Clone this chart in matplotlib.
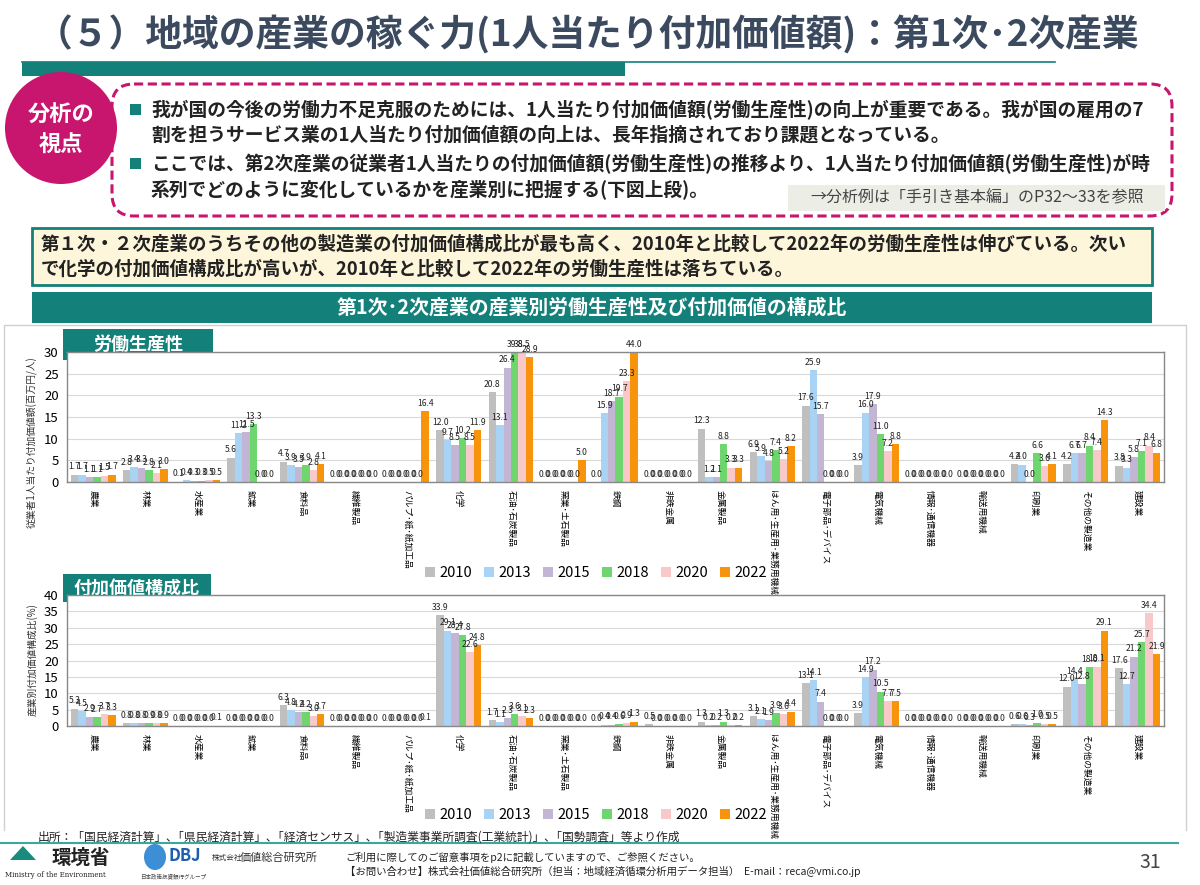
import matplotlib
matplotlib.use("Agg")
import matplotlib.pyplot as plt
import numpy as np
from matplotlib.patches import FancyBboxPatch, Rectangle, Ellipse, Polygon

plt.rcParams['font.family'] = ['Noto Sans CJK JP', 'DejaVu Sans']

# データ
categories = ["農業", "林業", "水産業", "鉱業", "食料品", "繊維製品", "パルプ･紙･紙加工品",
              "化学", "石油･石炭製品", "窯業･土石製品", "鉄鋼", "非鉄金属", "金属製品",
              "はん用･生産用･業務用機械", "電子部品･デバイス", "電気機械", "情報･通信機器",
              "輸送用機械", "印刷業", "その他の製造業", "建設業"]
years = ["2010", "2013", "2015", "2018", "2020", "2022"]
colors = ["#bfbfbf", "#a9d3f5", "#c3b6d4", "#6fd66f", "#f9c9c9", "#f7940c"]

# 労働生産性 (百万円/人)
prod = {
    "2010": [1.7, 2.8, 0.1, 5.6, 4.7, 0.0, 0.0, 12.0, 20.8, 0.0, 0.0, 0.0, 12.3, 6.9, 17.6, 3.9, 0.0, 0.0, 4.2, 4.2, 3.8],
    "2013": [1.7, 3.4, 0.4, 11.2, 3.9, 0.0, 0.0, 9.7, 13.1, 0.0, 15.9, 0.0, 1.2, 5.9, 25.9, 16.0, 0.0, 0.0, 4.0, 6.7, 3.3],
    "2015": [1.1, 3.3, 0.3, 11.5, 3.5, 0.0, 0.0, 8.5, 26.4, 0.0, 18.7, 0.0, 1.1, 4.8, 15.7, 17.9, 0.0, 0.0, 0.0, 6.7, 5.8],
    "2018": [1.1, 2.8, 0.3, 13.3, 3.9, 0.0, 0.0, 10.2, 39.8, 0.0, 19.7, 0.0, 8.8, 7.4, 0.0, 11.0, 0.0, 0.0, 6.6, 8.4, 7.1],
    "2020": [1.5, 2.1, 0.5, 0.0, 2.8, 0.0, 0.0, 8.5, 38.5, 0.0, 23.3, 0.0, 3.3, 5.2, 0.0, 7.2, 0.0, 0.0, 3.6, 7.4, 8.4],
    "2022": [1.7, 3.0, 0.5, 0.0, 4.1, 0.0, 16.4, 11.9, 28.9, 5.0, 44.0, 0.0, 3.3, 8.2, 0.0, 8.8, 0.0, 0.0, 4.1, 14.3, 6.8],
}
# 付加価値構成比 (%)
share = {
    "2010": [5.3, 0.8, 0.0, 0.0, 6.3, 0.0, 0.0, 33.9, 1.7, 0.0, 0.0, 0.5, 1.3, 3.1, 13.1, 3.9, 0.0, 0.0, 0.6, 12.0, 17.6],
    "2013": [4.5, 0.8, 0.0, 0.0, 4.8, 0.0, 0.0, 29.1, 1.1, 0.0, 0.4, 0.0, 0.2, 2.1, 14.1, 14.9, 0.0, 0.0, 0.6, 14.4, 12.7],
    "2015": [2.9, 0.8, 0.0, 0.0, 4.2, 0.0, 0.0, 28.4, 2.3, 0.0, 0.4, 0.0, 0.2, 1.9, 7.4, 17.2, 0.0, 0.0, 0.3, 12.8, 21.2],
    "2018": [2.7, 0.9, 0.0, 0.0, 4.2, 0.0, 0.0, 27.8, 3.6, 0.0, 0.6, 0.0, 1.3, 3.9, 0.0, 10.5, 0.0, 0.0, 1.0, 18.0, 25.7],
    "2020": [3.7, 0.8, 0.0, 0.0, 3.0, 0.0, 0.0, 22.6, 3.1, 0.0, 0.9, 0.0, 0.2, 3.6, 0.0, 7.7, 0.0, 0.0, 0.5, 18.1, 34.4],
    "2022": [3.3, 0.9, 0.1, 0.0, 3.7, 0.0, 0.1, 24.8, 2.3, 0.0, 1.3, 0.0, 0.2, 4.4, 0.0, 7.5, 0.0, 0.0, 0.5, 29.1, 21.9],
}

W, H = 1200, 885
fig = plt.figure(figsize=(12, 8.85), dpi=100)
teal = "#13807a"
magenta = "#c8156d"

bg = fig.add_axes([0, 0, 1, 1])
bg.set_xlim(0, W)
bg.set_ylim(H, 0)
bg.axis("off")

# タイトル
bg.text(36, 35, "（５）地域の産業の稼ぐ力(1人当たり付加価値額)：第1次･2次産業",
        fontsize=26.5, fontweight="bold", color="#3b4a5e", va="center", ha="left")
bg.add_patch(Rectangle((22, 62), 603, 14, color=teal, lw=0))
bg.plot([22, 1055], [62, 62], color=teal, lw=1.2)

# 分析の視点
bg.add_patch(FancyBboxPatch((112, 84), 1060, 132, boxstyle="round,pad=0,rounding_size=22",
                            fill=False, ec=magenta, lw=2.2, ls=(0, (3, 1.5))))
bg.add_patch(Ellipse((61, 128), 112, 112, color=magenta, lw=0))
bg.text(61, 115, "分析の", fontsize=16, fontweight="bold", color="white", ha="center", va="center")
bg.text(61, 145, "視点", fontsize=16, fontweight="bold", color="white", ha="center", va="center")

lines1 = ["我が国の今後の労働力不足克服のためには、1人当たり付加価値額(労働生産性)の向上が重要である。我が国の雇用の7",
          "割を担うサービス業の1人当たり付加価値額の向上は、長年指摘されており課題となっている。"]
lines2 = ["ここでは、第2次産業の従業者1人当たりの付加価値額(労働生産性)の推移より、1人当たり付加価値額(労働生産性)が時",
          "系列でどのように変化しているかを産業別に把握する(下図上段)。"]
for y0, ls_ in [(110, lines1), (164, lines2)]:
    bg.add_patch(Rectangle((130, y0 - 6), 11, 11, color=teal, lw=0))
    bg.text(151, y0, ls_[0], fontsize=13.5, fontweight="bold", color="#222222", va="center")
    bg.text(151, y0 + 25, ls_[1], fontsize=13.5, fontweight="bold", color="#222222", va="center")
bg.add_patch(Rectangle((788, 185), 377, 26, color="#eceee6", lw=0))
bg.text(977, 198, "→分析例は「手引き基本編」のP32～33を参照", fontsize=11.5, color="#444444",
        ha="center", va="center")

# 要約ボックス
bg.add_patch(Rectangle((32, 228), 1120, 57, fc="#fef6da", ec=teal, lw=2))
bg.text(41, 244, "第１次・２次産業のうちその他の製造業の付加価値構成比が最も高く、2010年と比較して2022年の労働生産性は伸びている。次い",
        fontsize=13.3, fontweight="bold", color="#222222", va="center")
bg.text(41, 269, "で化学の付加価値構成比が高いが、2010年と比較して2022年の労働生産性は落ちている。",
        fontsize=13.3, fontweight="bold", color="#222222", va="center")
bg.add_patch(Rectangle((32, 292), 1120, 31, color=teal, lw=0))
bg.text(592, 307, "第1次･2次産業の産業別労働生産性及び付加価値の構成比", fontsize=14.3, fontweight="bold",
        color="white", ha="center", va="center")

# パネル枠
bg.plot([4, 4, 1186, 1186], [830, 325, 325, 830], color="#d0d0d0", lw=1)


def draw_chart(rect, data, ymax, ylabel, label_y):
    ax = fig.add_axes([rect[0] / W, 1 - (rect[1] + rect[3]) / H, rect[2] / W, rect[3] / H])
    x = np.arange(len(categories))
    bw = 0.143
    for i, yr in enumerate(years):
        vals = np.array(data[yr])
        xs = x + (i - 2.5) * bw
        ax.bar(xs, vals, width=bw, color=colors[i], label=yr, zorder=2)
        for xx, v in zip(xs, vals):
            ax.text(xx, min(v, ymax) + ymax * 0.025, f"{v:.1f}", fontsize=6.2, ha="center",
                    va="bottom", color="#222222", clip_on=False)
    ax.set_xlim(-0.5, len(categories) - 0.5)
    ax.set_ylim(0, ymax)
    ax.set_yticks(np.arange(0, ymax + 1, 5))
    ax.tick_params(axis="y", labelsize=9.5, length=0, pad=6)
    ax.tick_params(axis="x", length=0, pad=6)
    ax.set_xticks(x)
    ax.set_xticklabels(categories, rotation=-90, fontsize=6.3, va="top")
    ax.grid(axis="y", color="#d9d9d9", lw=0.8, zorder=0)
    for s in ax.spines.values():
        s.set_color("#888888")
        s.set_linewidth(1)
    ax.set_ylabel(ylabel, fontsize=7, color="#333333")
    # ラベル位置（ピクセル指定）
    ax.yaxis.set_label_coords(-29 / rect[2], 1 - (label_y - rect[1]) / rect[3])
    return ax


ax1 = draw_chart((67, 352, 1097, 130), prod, 30, "従業者1人当たり付加価値額(百万円/人)", 442)
ax2 = draw_chart((67, 595, 1097, 131), share, 40, "産業別付加価値構成比(%)", 660)

for ax, ly in [(ax1, 573), (ax2, 815)]:
    ax.legend(loc="center", bbox_to_anchor=(596 / W, 1 - ly / H), bbox_transform=fig.transFigure,
              ncol=6, frameon=False, fontsize=10.5, handlelength=0.7, handleheight=0.7,
              handletextpad=0.3, columnspacing=0.8)

# 見出しタグ
for x0, y0, w, h, t in [(63, 329, 150, 31, "労働生産性"), (63, 574, 148, 28, "付加価値構成比")]:
    bg.add_patch(Rectangle((x0, y0), w, h, color=teal, lw=0, zorder=5))
    bg.text(x0 + w / 2, y0 + h / 2, t, fontsize=13, fontweight="bold", color="white",
            ha="center", va="center", zorder=6)

# フッター
bg.text(38, 837, "出所：「国民経済計算」､「県民経済計算」､「経済センサス」､「製造業事業所調査(工業統計)」､「国勢調査」等より作成",
        fontsize=8.5, color="#222222", va="center")
bg.plot([0, 1178], [843, 843], color="#3aa89e", lw=1.5)
bg.add_patch(Polygon([[10, 860], [23, 846], [36, 860]], color="#1a8a7e", lw=0))
bg.text(52, 858, "環境省", fontsize=14, fontweight="bold", color="#222222", va="center")
bg.text(5, 875, "Ministry of the Environment", fontsize=5, color="#222222", va="center", family="DejaVu Serif")
bg.add_patch(Ellipse((155, 857), 22, 26, color="#3c8fd4", lw=0))
bg.text(168, 856, "DBJ", fontsize=12, fontweight="bold", color="#1d5fae", va="center")
bg.text(140, 876, "日本政策投資銀行グループ", fontsize=4, color="#444444", va="center")
bg.text(212, 858, "株式会社", fontsize=5.5, color="#333333", va="center")
bg.text(240, 858, "価値総合研究所", fontsize=8, color="#333333", va="center")
bg.text(345, 857, "ご利用に際してのご留意事項をp2に記載していますので、ご参照ください。", fontsize=7.5, color="#222222", va="center")
bg.text(345, 871, "【お問い合わせ】株式会社価値総合研究所（担当：地域経済循環分析用データ担当）  E-mail：reca@vmi.co.jp",
        fontsize=7.5, color="#222222", va="center")
bg.text(1150, 863, "31", fontsize=14, color="#444444", ha="center", va="center")

fig.savefig("out.png", dpi=100)
